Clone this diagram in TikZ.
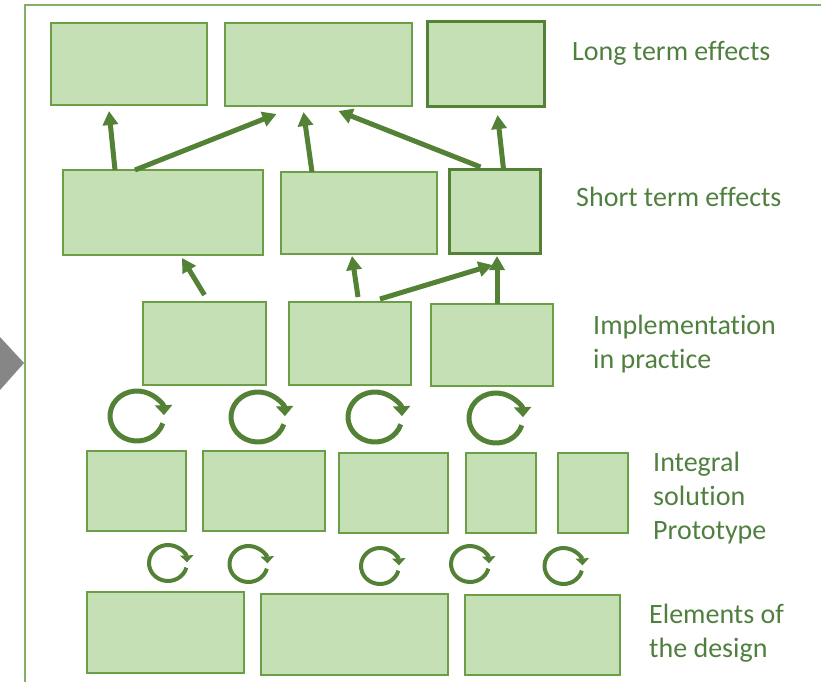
\documentclass[tikz,border=0pt]{standalone}
\usepackage{fontspec}
\setmainfont[Ligatures=NoCommon]{Carlito}
\usetikzlibrary{arrows.meta}

\definecolor{boxfill}{RGB}{197,224,180}
\definecolor{boxline}{RGB}{108,158,72}
\definecolor{dkgreen}{RGB}{83,129,53}
\definecolor{lblgreen}{RGB}{80,128,64}
\definecolor{framegreen}{RGB}{132,174,106}

\tikzset{
  box/.style={draw=boxline, fill=boxfill, line width=1.5pt, inner sep=0pt, outer sep=0pt},
  thickbox/.style={box, draw=dkgreen, line width=3pt},
  arr/.style={draw=dkgreen, line width=5pt, -{Triangle[length=14pt,width=15pt]}},
  bigcyc/.style={draw=dkgreen, line width=5pt, -{Triangle[length=10pt,width=17pt]}},
  smallcyc/.style={draw=dkgreen, line width=4pt, -{Triangle[length=7pt,width=13pt]}},
  lbl/.style={text=lblgreen, inner sep=0pt, anchor=base west, align=left,
    font=\fontsize{28}{34}\selectfont}
}

\begin{document}
\begin{tikzpicture}[x=1pt,y=-1pt]
  \useasboundingbox (0,0) rectangle (821,682);
  %ramme og pil til venstre
	\draw[framegreen, line width=1.5pt] (25,682) -- (25,5) -- (821,5);
	\fill[gray!95] (0,337) -- (24,363) -- (0,390) -- cycle;

  %lange effekter
	\node[box, minimum width=156pt, minimum height=82pt] (a1) at (129,64) {};
	\node[box, minimum width=187pt, minimum height=83pt] (a2) at (318.5,64.5) {};
	\node[thickbox, minimum width=117pt, minimum height=85pt] (a3) at (485.5,64.5) {};

  %korte effekter
	\node[box, minimum width=200pt, minimum height=85pt] (b1) at (163,212.5) {};
	\node[box, minimum width=156pt, minimum height=82pt] (b2) at (359,213) {};
	\node[thickbox, minimum width=91pt, minimum height=84pt] (b3) at (494.5,211) {};

  %implementering
	\node[box, minimum width=123pt, minimum height=83pt] (c1) at (204.5,343.5) {};
	\node[box, minimum width=122pt, minimum height=83pt] (c2) at (350,343.5) {};
	\node[box, minimum width=122pt, minimum height=82pt] (c3) at (492,345) {};

  %prototype
	\node[box, minimum width=99pt, minimum height=80pt] (d1) at (136.5,491) {};
	\node[box, minimum width=122pt, minimum height=80pt] (d2) at (264,491) {};
	\node[box, minimum width=109pt, minimum height=80pt] (d3) at (393.5,493) {};
	\node[box, minimum width=70pt, minimum height=80pt] (d4) at (501,493) {};
	\node[box, minimum width=70pt, minimum height=80pt] (d5) at (593,493) {};

  %elementer
	\node[box, minimum width=157pt, minimum height=81pt] (e1) at (165.5,632.5) {};
	\node[box, minimum width=187pt, minimum height=81pt] (e2) at (354.5,634.5) {};
	\node[box, minimum width=155pt, minimum height=80pt] (e3) at (542.5,635) {};

  %tekster (base = sidste linje)
	\node[lbl] (tlong) at (572,61) {Long term effects};
	\node[lbl] (tshort) at (576,206) {Short term effects};
	\node[lbl] (timpl) at (593,368) {Implementation\\in practice};
	\node[lbl] (tint) at (653,539) {Integral\\solution\\Prototype};
	\node[lbl] (telem) at (649,657) {Elements of\\the design};

  %pile opad
	\draw[arr] ([xshift=-48pt]b1.north) -- ([xshift=-20pt,yshift=-6pt]a1.south);
	\draw[arr] ([xshift=-28pt]b1.north) -- ([xshift=-42pt,yshift=-8pt]a2.south);
	\draw[arr] ([xshift=-47pt]b2.north) -- ([xshift=-15pt,yshift=-6pt]a2.south);
	\draw[arr] ([xshift=-14pt,yshift=2pt]b3.north) -- ([xshift=20pt,yshift=-5pt]a2.south);
	\draw[arr] ([xshift=9pt]b3.north) -- ([xshift=12pt,yshift=-8pt]a3.south);
	\draw[arr] ([yshift=7pt]c1.north) -- ([xshift=19pt,yshift=-3pt]b1.south);
	\draw[arr] ([xshift=8pt,yshift=5pt]c2.north) -- ([xshift=-7pt,yshift=-2pt]b2.south);
	\draw[arr] ([xshift=30pt,yshift=3pt]c2.north) -- ([xshift=-2pt,yshift=-12pt]b3.south);
	\draw[arr] ([xshift=5pt]c3.north) -- ([xshift=2.5pt,yshift=-3pt]b3.south);

  %kredsloeb
	\foreach \cx/\cy in {137/416, 258/417, 375/417, 496/418}
	  \draw[bigcyc] ([shift={(17:27 and 25)}]\cx,\cy) arc[start angle=17, end angle=358, x radius=27, y radius=25];
	\foreach \cx/\cy in {168/563, 248.5/564, 380/566, 470/564, 563.5/566}
	  \draw[smallcyc] ([shift={(15:19 and 18)}]\cx,\cy) arc[start angle=15, end angle=358, x radius=19, y radius=18];
\end{tikzpicture}
\end{document}
